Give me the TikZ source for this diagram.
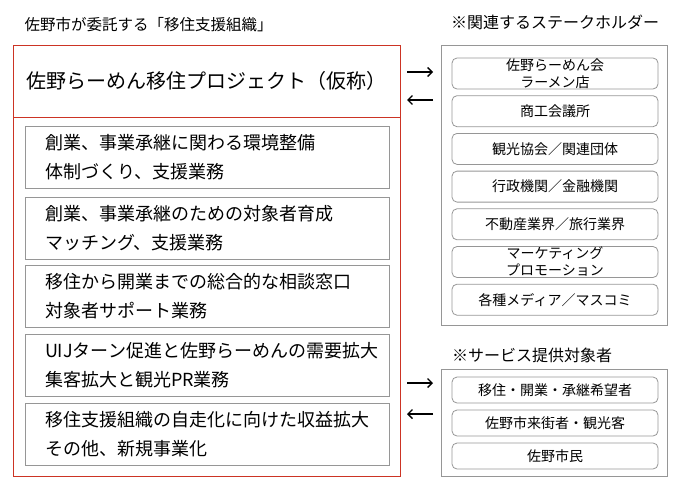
\documentclass[tikz,border=0pt]{standalone}
\usepackage{fontspec}
\setmainfont{Noto Sans CJK JP}
\usetikzlibrary{arrows.meta}
\definecolor{orgred}{RGB}{204,52,36}
\definecolor{boxgray}{RGB}{150,150,150}

\begin{document}
\begin{tikzpicture}[x=1pt, y=-1pt,
  heading/.style={inner sep=0pt, font=\fontsize{16}{18}\selectfont},
  task/.style={draw=boxgray, line width=1pt, minimum width=364pt, minimum height=62pt, text width=324pt, inner xsep=20pt, align=left, font=\fontsize{18}{29}\selectfont},
  group/.style={draw=boxgray, line width=1pt, minimum width=226pt},
  party/.style={draw=boxgray, rounded corners=5pt, line width=0.8pt, minimum width=206pt, minimum height=31pt, inner sep=0pt, align=center, font=\fontsize{14}{17}\selectfont},
  arrow/.style={-{Straight Barb[length=4.5pt, width=9pt]}, line width=1.4pt}
]
\useasboundingbox (0,0) rectangle (680,493);

% left: the organisation
\node[heading, font=\fontsize{15.5}{18}\selectfont] (title) at (148.5,25) {佐野市が委託する「移住支援組織」};
\node[draw=orgred, line width=1pt, minimum width=387pt, minimum height=431pt] (org) at (206.5,260.5) {};
\node[draw=orgred, line width=1pt, minimum width=387pt, minimum height=72pt, font=\fontsize{20}{24}\selectfont] (proj) at (206.5,81) {佐野らーめん移住プロジェクト（仮称）};

\node[task] (env) at (207,157.5) {創業、事業承継に関わる環境整備\\体制づくり、支援業務};
\node[task] (train) at (207,228) {創業、事業承継のための対象者育成\\マッチング、支援業務};
\node[task] (desk) at (207,296.5) {移住から開業までの総合的な相談窓口\\対象者サポート業務};
\node[task] (promo) at (207,365) {UIJターン促進と佐野らーめんの需要拡大\\集客拡大と観光PR業務};
\node[task] (income) at (207,434) {移住支援組織の自走化に向けた収益拡大\\その他、新規事業化};

% right: stakeholders
\node[heading] (holdtitle) at (555,22) {※関連するステークホルダー};
\node[group, minimum height=280pt] (holders) at (554,185) {};
\node[party] (ramen) at (555,73.5) {佐野らーめん会\\ラーメン店};
\node[party] (chamber) at (555,111.2) {商工会議所};
\node[party] (tourism) at (555,148.9) {観光協会／関連団体};
\node[party] (admin) at (555,186.6) {行政機関／金融機関};
\node[party] (estate) at (555,224.3) {不動産業界／旅行業界};
\node[party] (market) at (555,262) {マーケティング\\プロモーション};
\node[party] (media) at (555,299.7) {各種メディア／マスコミ};

% right: service targets
\node[heading] (servtitle) at (532,355) {※サービス提供対象者};
\node[group, minimum height=107pt] (service) at (554,422.5) {};
\node[party, minimum height=26pt] (settler) at (555,390) {移住・開業・承継希望者};
\node[party, minimum height=26pt] (visitor) at (555,423) {佐野市来街者・観光客};
\node[party, minimum height=26pt] (citizen) at (555,456) {佐野市民};

% arrows
\coordinate (outA) at (407,72);
\coordinate (outB) at (433,72);
\coordinate (inA) at (433,100);
\coordinate (inB) at (407,100);
\coordinate (outC) at (407,383);
\coordinate (outD) at (433,383);
\coordinate (inC) at (433,414);
\coordinate (inD) at (407,414);

\draw[arrow] (outA) -- (outB);
\draw[arrow] (inA) -- (inB);
\draw[arrow] (outC) -- (outD);
\draw[arrow] (inC) -- (inD);
\end{tikzpicture}
\end{document}
